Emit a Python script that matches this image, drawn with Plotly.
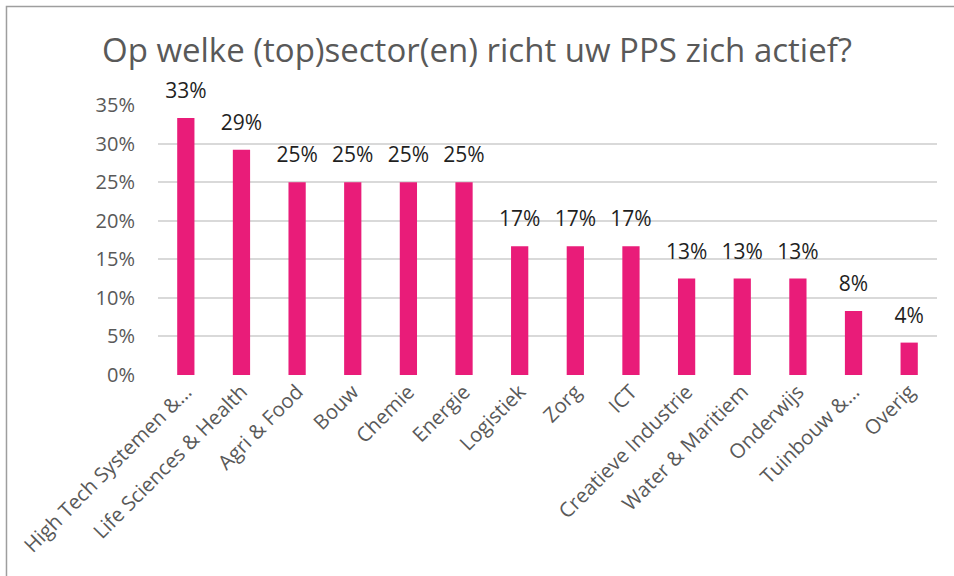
import plotly.graph_objects as go

categories = ["High Tech Systemen &…", "Life Sciences & Health", "Agri & Food", "Bouw",
              "Chemie", "Energie", "Logistiek", "Zorg", "ICT", "Creatieve Industrie",
              "Water & Maritiem", "Onderwijs", "Tuinbouw &…", "Overig"]
values = [0.333, 0.292, 0.25, 0.25, 0.25, 0.25, 0.167, 0.167, 0.167, 0.125, 0.125, 0.125, 0.083, 0.042]
labels = [f"{int(v * 100 + 0.5)}%" for v in values]
title_text = "Op welke (top)sector(en) richt uw PPS zich actief?"
ytick_vals = [0, 0.05, 0.10, 0.15, 0.20, 0.25, 0.30, 0.35]
ytick_text = ["0%", "5%", "10%", "15%", "20%", "25%", "30%", "35%"]

FONT = "Open Sans"
fig = go.Figure()
fig.add_trace(go.Bar(
    x=categories, y=values, marker_color="#E91C79", marker_line_width=0,
    hoverinfo="skip",
))
fig.add_trace(go.Scatter(
    x=categories, y=values, mode="markers+text", text=labels, textposition="top center",
    marker=dict(size=22, color="rgba(0,0,0,0)"), cliponaxis=False, hoverinfo="skip",
    textfont=dict(family=FONT, size=21, color="#1f1f1f"),
))

fig.update_layout(
    width=954, height=576,
    margin=dict(l=158, r=17, t=105, b=201),
    paper_bgcolor="white", plot_bgcolor="white",
    bargap=0.69,
    showlegend=False,
    title=dict(text=title_text, x=0.5, xanchor="center", y=0.912, yanchor="middle",
               font=dict(family=FONT, size=33, color="#595959")),
    xaxis=dict(tickangle=-45, tickfont=dict(family=FONT, size=20.3, color="#595959"),
               range=[-0.5, len(categories) - 0.5],
               showline=False, zeroline=False, showgrid=False, ticks="", automargin=False),
    yaxis=dict(range=[0, 0.35], tickvals=ytick_vals, ticktext=ytick_text,
               tickfont=dict(family=FONT, size=20, color="#595959"),
               showgrid=True, gridcolor="#D9D9D9", gridwidth=1.5,
               zeroline=False, showline=False, ticks="", ticklabelstandoff=22, automargin=False),
    shapes=[dict(type="rect", xref="paper", yref="paper", x0=-0.1945, x1=1.5, y0=-1.0, y1=1.365,
                 line=dict(color="#9E9E9E", width=1.5), fillcolor="rgba(0,0,0,0)", layer="below")],
)

fig.write_html("out.html", config={"displayModeBar": False},
               post_script="document.body.style.margin='0';")
